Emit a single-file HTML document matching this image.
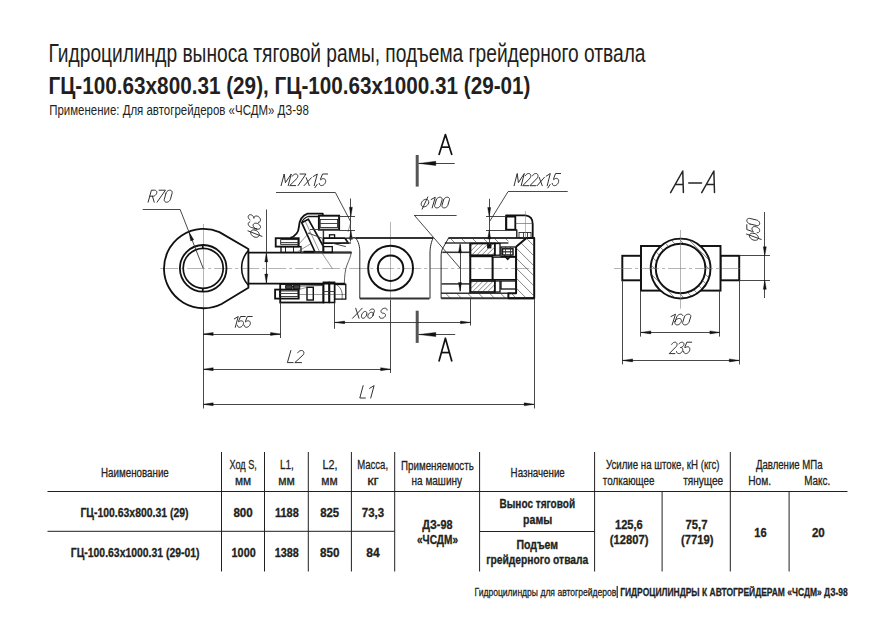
<!DOCTYPE html><html><head><meta charset="utf-8"><style>html,body{margin:0;padding:0;background:#fff;width:891px;height:620px;overflow:hidden}svg{display:block}text{font-family:"Liberation Sans",sans-serif}</style></head><body>
<svg width="891" height="620" viewBox="0 0 891 620">
<rect width="891" height="620" fill="#fff"/>
<line x1="47.5" y1="491.5" x2="847.5" y2="491.5" stroke="#231f20" stroke-width="1"/>
<line x1="47.5" y1="531.3" x2="394.7" y2="531.3" stroke="#231f20" stroke-width="1"/>
<line x1="479.6" y1="531.5" x2="594.6" y2="531.5" stroke="#231f20" stroke-width="1"/>
<line x1="221.5" y1="452" x2="221.5" y2="571.5" stroke="#231f20" stroke-width="1"/>
<line x1="264.5" y1="452" x2="264.5" y2="571.5" stroke="#231f20" stroke-width="1"/>
<line x1="308.3" y1="452" x2="308.3" y2="571.5" stroke="#231f20" stroke-width="1"/>
<line x1="351.4" y1="452" x2="351.4" y2="571.5" stroke="#231f20" stroke-width="1"/>
<line x1="394.7" y1="452" x2="394.7" y2="571.5" stroke="#231f20" stroke-width="1"/>
<line x1="479.6" y1="452" x2="479.6" y2="571.5" stroke="#231f20" stroke-width="1"/>
<line x1="594.6" y1="452" x2="594.6" y2="571.5" stroke="#231f20" stroke-width="1"/>
<line x1="730.3" y1="452" x2="730.3" y2="571.5" stroke="#231f20" stroke-width="1"/>
<line x1="662.1" y1="491.5" x2="662.1" y2="571.5" stroke="#231f20" stroke-width="1"/>
<line x1="789.1" y1="491.5" x2="789.1" y2="571.5" stroke="#231f20" stroke-width="1"/>
<line x1="617.2" y1="586" x2="617.2" y2="598" stroke="#231f20" stroke-width="1.2"/>
<text x="48.5" y="61.5" font-size="26.16" fill="#231f20" textLength="597.0" lengthAdjust="spacingAndGlyphs">Гидроцилиндр выноса тяговой рамы, подъема грейдерного отвала</text>
<text x="48.5" y="93.7" font-size="24.71" font-weight="bold" fill="#231f20" textLength="482.0" lengthAdjust="spacingAndGlyphs">ГЦ-100.63х800.31 (29), ГЦ-100.63х1000.31 (29-01)</text>
<text x="49.2" y="115.2" font-size="13.81" fill="#231f20" textLength="259.6" lengthAdjust="spacingAndGlyphs">Применение: Для автогрейдеров «ЧСДМ» ДЗ-98</text>
<text x="101.0" y="477" font-size="13.08" stroke="#231f20" stroke-width="0.3" fill="#231f20" textLength="67.8" lengthAdjust="spacingAndGlyphs">Наименование</text>
<text x="229.39999999999998" y="469" font-size="13.08" stroke="#231f20" stroke-width="0.3" fill="#231f20" textLength="27.4" lengthAdjust="spacingAndGlyphs">Ход S,</text>
<text x="235.0" y="485.2" font-size="12.50" stroke="#231f20" stroke-width="0.3" fill="#231f20" textLength="16.2" lengthAdjust="spacingAndGlyphs">мм</text>
<text x="279.9" y="469" font-size="13.08" stroke="#231f20" stroke-width="0.3" fill="#231f20" textLength="13.9" lengthAdjust="spacingAndGlyphs">L1,</text>
<text x="278.2" y="485.2" font-size="12.50" stroke="#231f20" stroke-width="0.3" fill="#231f20" textLength="16.6" lengthAdjust="spacingAndGlyphs">мм</text>
<text x="322.59999999999997" y="469" font-size="13.08" stroke="#231f20" stroke-width="0.3" fill="#231f20" textLength="15.0" lengthAdjust="spacingAndGlyphs">L2,</text>
<text x="321.2" y="485.2" font-size="12.50" stroke="#231f20" stroke-width="0.3" fill="#231f20" textLength="16.4" lengthAdjust="spacingAndGlyphs">мм</text>
<text x="357.2" y="469" font-size="13.08" stroke="#231f20" stroke-width="0.3" fill="#231f20" textLength="30.9" lengthAdjust="spacingAndGlyphs">Масса,</text>
<text x="367.2" y="485.2" font-size="12.50" stroke="#231f20" stroke-width="0.3" fill="#231f20" textLength="11.6" lengthAdjust="spacingAndGlyphs">кг</text>
<text x="401.0" y="469.7" font-size="13.08" stroke="#231f20" stroke-width="0.3" fill="#231f20" textLength="72.8" lengthAdjust="spacingAndGlyphs">Применяемость</text>
<text x="411.59999999999997" y="485.2" font-size="12.50" stroke="#231f20" stroke-width="0.3" fill="#231f20" textLength="50.4" lengthAdjust="spacingAndGlyphs">на машину</text>
<text x="510.59999999999997" y="476.8" font-size="13.08" stroke="#231f20" stroke-width="0.3" fill="#231f20" textLength="54.2" lengthAdjust="spacingAndGlyphs">Назначение</text>
<text x="605.9000000000001" y="469" font-size="13.08" stroke="#231f20" stroke-width="0.3" fill="#231f20" textLength="113.7" lengthAdjust="spacingAndGlyphs">Усилие на штоке, кН (кгс)</text>
<text x="602.8000000000001" y="485.2" font-size="12.50" stroke="#231f20" stroke-width="0.3" fill="#231f20" textLength="51.6" lengthAdjust="spacingAndGlyphs">толкающее</text>
<text x="683.2" y="485.2" font-size="12.50" stroke="#231f20" stroke-width="0.3" fill="#231f20" textLength="40.0" lengthAdjust="spacingAndGlyphs">тянущее</text>
<text x="755.9000000000001" y="469" font-size="13.08" stroke="#231f20" stroke-width="0.3" fill="#231f20" textLength="66.7" lengthAdjust="spacingAndGlyphs">Давление МПа</text>
<text x="748.2" y="485" font-size="13.08" stroke="#231f20" stroke-width="0.3" fill="#231f20" textLength="22.9" lengthAdjust="spacingAndGlyphs">Ном.</text>
<text x="804.2" y="485" font-size="13.08" stroke="#231f20" stroke-width="0.3" fill="#231f20" textLength="26.0" lengthAdjust="spacingAndGlyphs">Макс.</text>
<text x="80.4" y="517.3" font-size="12.35" font-weight="bold" stroke="#231f20" stroke-width="0.3" fill="#231f20" textLength="108.2" lengthAdjust="spacingAndGlyphs">ГЦ-100.63х800.31 (29)</text>
<text x="70.8" y="556.8" font-size="12.35" font-weight="bold" stroke="#231f20" stroke-width="0.3" fill="#231f20" textLength="128.8" lengthAdjust="spacingAndGlyphs">ГЦ-100.63х1000.31 (29-01)</text>
<text x="233.39999999999998" y="516.8" font-size="12.35" font-weight="bold" stroke="#231f20" stroke-width="0.3" fill="#231f20" textLength="19.4" lengthAdjust="spacingAndGlyphs">800</text>
<text x="275.0" y="516.8" font-size="12.35" font-weight="bold" stroke="#231f20" stroke-width="0.3" fill="#231f20" textLength="23.8" lengthAdjust="spacingAndGlyphs">1188</text>
<text x="320.2" y="516.8" font-size="12.35" font-weight="bold" stroke="#231f20" stroke-width="0.3" fill="#231f20" textLength="19.0" lengthAdjust="spacingAndGlyphs">825</text>
<text x="361.8" y="516.8" font-size="12.35" font-weight="bold" stroke="#231f20" stroke-width="0.3" fill="#231f20" textLength="22.3" lengthAdjust="spacingAndGlyphs">73,3</text>
<text x="231.6" y="556.6" font-size="12.35" font-weight="bold" stroke="#231f20" stroke-width="0.3" fill="#231f20" textLength="24.1" lengthAdjust="spacingAndGlyphs">1000</text>
<text x="274.7" y="556.6" font-size="12.35" font-weight="bold" stroke="#231f20" stroke-width="0.3" fill="#231f20" textLength="24.1" lengthAdjust="spacingAndGlyphs">1388</text>
<text x="319.9" y="556.6" font-size="12.35" font-weight="bold" stroke="#231f20" stroke-width="0.3" fill="#231f20" textLength="19.5" lengthAdjust="spacingAndGlyphs">850</text>
<text x="366.2" y="556.6" font-size="12.35" font-weight="bold" stroke="#231f20" stroke-width="0.3" fill="#231f20" textLength="13.4" lengthAdjust="spacingAndGlyphs">84</text>
<text x="422.2" y="528.7" font-size="12.35" font-weight="bold" stroke="#231f20" stroke-width="0.3" fill="#231f20" textLength="30.3" lengthAdjust="spacingAndGlyphs">ДЗ-98</text>
<text x="417.0" y="544" font-size="12.35" font-weight="bold" stroke="#231f20" stroke-width="0.3" fill="#231f20" textLength="41.0" lengthAdjust="spacingAndGlyphs">«ЧСДМ»</text>
<text x="499.5" y="508" font-size="12.35" font-weight="bold" stroke="#231f20" stroke-width="0.3" fill="#231f20" textLength="75.6" lengthAdjust="spacingAndGlyphs">Вынос тяговой</text>
<text x="523.1" y="524" font-size="12.35" font-weight="bold" stroke="#231f20" stroke-width="0.3" fill="#231f20" textLength="29.1" lengthAdjust="spacingAndGlyphs">рамы</text>
<text x="516.5" y="548.7" font-size="12.35" font-weight="bold" stroke="#231f20" stroke-width="0.3" fill="#231f20" textLength="41.6" lengthAdjust="spacingAndGlyphs">Подъем</text>
<text x="486.2" y="564" font-size="12.35" font-weight="bold" stroke="#231f20" stroke-width="0.3" fill="#231f20" textLength="102.1" lengthAdjust="spacingAndGlyphs">грейдерного отвала</text>
<text x="615.0" y="529" font-size="12.35" font-weight="bold" stroke="#231f20" stroke-width="0.3" fill="#231f20" textLength="27.8" lengthAdjust="spacingAndGlyphs">125,6</text>
<text x="609.8000000000001" y="544.4" font-size="12.35" font-weight="bold" stroke="#231f20" stroke-width="0.3" fill="#231f20" textLength="38.6" lengthAdjust="spacingAndGlyphs">(12807)</text>
<text x="685.6" y="529" font-size="12.35" font-weight="bold" stroke="#231f20" stroke-width="0.3" fill="#231f20" textLength="21.9" lengthAdjust="spacingAndGlyphs">75,7</text>
<text x="681.0" y="544.4" font-size="12.35" font-weight="bold" stroke="#231f20" stroke-width="0.3" fill="#231f20" textLength="32.5" lengthAdjust="spacingAndGlyphs">(7719)</text>
<text x="754.2" y="536.5" font-size="12.35" font-weight="bold" stroke="#231f20" stroke-width="0.3" fill="#231f20" textLength="12.4" lengthAdjust="spacingAndGlyphs">16</text>
<text x="811.9000000000001" y="536.5" font-size="12.35" font-weight="bold" stroke="#231f20" stroke-width="0.3" fill="#231f20" textLength="12.9" lengthAdjust="spacingAndGlyphs">20</text>
<text x="474.5" y="595.8" font-size="11.63" stroke="#231f20" stroke-width="0.3" fill="#231f20" textLength="141.8" lengthAdjust="spacingAndGlyphs">Гидроцилиндры для автогрейдеров</text>
<text x="620.2" y="595.8" font-size="11.63" font-weight="bold" stroke="#231f20" stroke-width="0.3" fill="#231f20" textLength="227.6" lengthAdjust="spacingAndGlyphs">ГИДРОЦИЛИНДРЫ К АВТОГРЕЙДЕРАМ «ЧСДМ» ДЗ-98</text>
<line x1="160.20" y1="268.50" x2="534.20" y2="268.50" stroke="#777" stroke-width="0.55" stroke-dasharray="18,3,3,3"/>
<line x1="203.50" y1="224.00" x2="203.50" y2="308.00" stroke="#777" stroke-width="0.55"/>
<line x1="203.50" y1="308.00" x2="203.50" y2="408.50" stroke="#333" stroke-width="0.9"/>
<line x1="390.50" y1="222.00" x2="390.50" y2="300.00" stroke="#777" stroke-width="0.55"/>
<line x1="390.50" y1="300.00" x2="390.50" y2="373.00" stroke="#333" stroke-width="0.9"/>
<path d="M219.4,232.1 A39.7,39.7 0 1 0 221.6,304.0 L248.4,287.7 L248.4,249 Z" fill="none" stroke="#111" stroke-width="1.8199999999999998" stroke-linejoin="round"/>
<circle cx="203.20" cy="268.30" r="23.30" fill="none" stroke="#111" stroke-width="1.8199999999999998"/>
<circle cx="203.20" cy="268.30" r="20.00" fill="none" stroke="#111" stroke-width="1.6900000000000002"/>
<line x1="202.70" y1="244.80" x2="202.70" y2="248.20" stroke="#111" stroke-width="1.56"/>
<line x1="202.70" y1="288.40" x2="202.70" y2="291.80" stroke="#111" stroke-width="1.56"/>
<path d="M248.4,250.6 A25.5,25.5 0 0 0 248.4,285.2" fill="none" stroke="#111" stroke-width="1.56" stroke-linejoin="round"/>
<line x1="142.70" y1="209.50" x2="180.00" y2="209.50" stroke="#333" stroke-width="0.9"/>
<line x1="180.00" y1="209.20" x2="203.20" y2="268.30" stroke="#333" stroke-width="0.9"/>
<polygon points="188.95,232.00 193.73,239.79 190.75,240.96" fill="#111" stroke="#111" stroke-width="0.4"/>
<path d="M148.10,202.20 L151.40,190.20 L154.58,190.20 L154.58,190.20 L155.17,190.27 L155.70,190.46 L156.15,190.77 L156.49,191.19 L156.71,191.70 L156.80,192.27 L156.76,192.89 L156.59,193.51 L156.29,194.13 L155.88,194.70 L155.38,195.21 L154.81,195.63 L154.19,195.94 L153.56,196.13 L152.93,196.20 L149.75,196.20 M152.44,196.20 L154.21,202.20 M159.10,190.20 L165.46,190.20 L157.03,202.20 M165.98,193.20 L166.22,192.58 L166.58,191.98 L167.05,191.44 L167.61,190.97 L168.22,190.60 L168.88,190.35 L169.54,190.22 L170.18,190.22 L170.77,190.35 L171.28,190.60 L171.70,190.97 L172.00,191.44 L172.17,191.98 L172.20,192.58 L172.10,193.20 L170.44,199.20 L170.21,199.82 L169.84,200.42 L169.38,200.96 L168.82,201.43 L168.20,201.80 L167.55,202.05 L166.89,202.18 L166.25,202.18 L165.66,202.05 L165.14,201.80 L164.73,201.43 L164.43,200.96 L164.26,200.42 L164.23,199.82 L164.33,199.20 L165.98,193.20" fill="none" stroke="#262626" stroke-width="0.95" stroke-linecap="round" stroke-linejoin="round"/>
<line x1="248.40" y1="252.60" x2="351.50" y2="252.60" stroke="#111" stroke-width="1.8199999999999998"/>
<line x1="248.40" y1="283.70" x2="345.50" y2="283.70" stroke="#111" stroke-width="1.8199999999999998"/>
<path d="M351.2,252.3 C351,256 349,260 347,265 C345,270 344.5,277 344.3,283.9" fill="none" stroke="#333" stroke-width="0.8" stroke-linejoin="round"/>
<line x1="266.50" y1="209.50" x2="266.50" y2="283.40" stroke="#333" stroke-width="0.9"/>
<polygon points="266.30,252.90 267.80,261.90 264.80,261.90" fill="#111" stroke="#111" stroke-width="0.4"/>
<polygon points="266.30,283.10 264.80,274.10 267.80,274.10" fill="#111" stroke="#111" stroke-width="0.4"/>
<path d="M254.97,230.06 L254.07,229.92 L253.21,229.93 L252.43,230.11 L251.77,230.43 L251.24,230.90 L250.87,231.48 L250.68,232.16 L250.68,232.90 L250.87,233.68 L251.24,234.44 L251.77,235.18 L252.43,235.84 L253.21,236.41 L254.07,236.85 L254.97,237.15 L255.86,237.30 L256.72,237.29 L257.50,237.11 L258.16,236.78 L258.69,236.32 L259.06,235.73 L259.25,235.05 L259.25,234.31 L259.06,233.54 L258.69,232.77 L258.16,232.04 L257.50,231.38 L256.72,230.81 L255.86,230.37 L254.97,230.06 M261.98,236.40 L247.95,230.82 M249.80,221.93 L249.24,222.14 L248.78,222.48 L248.44,222.92 L248.25,223.44 L248.20,224.03 L248.31,224.64 L248.56,225.26 L248.95,225.86 L249.45,226.40 L250.05,226.86 L250.71,227.21 L251.40,227.45 L256.81,229.04 M256.81,229.04 L256.04,228.78 L255.31,228.42 L254.64,227.95 L254.07,227.41 L253.61,226.81 L253.30,226.18 L253.14,225.56 L253.14,224.96 L253.30,224.42 L253.61,223.95 L254.07,223.58 L254.64,223.32 L255.31,223.19 L256.04,223.19 L256.81,223.32 L257.58,223.58 L258.31,223.95 L258.98,224.41 L259.55,224.96 L260.01,225.55 L260.32,226.18 L260.48,226.80 L260.48,227.40 L260.32,227.95 L260.01,228.41 L259.55,228.78 L258.98,229.04 L258.31,229.17 L257.58,229.17 L256.81,229.04 M250.06,219.86 L249.51,219.46 L249.03,218.96 L248.64,218.40 L248.37,217.80 L248.22,217.18 L248.21,216.58 L248.33,216.02 L248.58,215.54 L248.94,215.15 L249.41,214.87 L249.95,214.72 L250.54,214.70 L251.15,214.82 L251.76,215.06 L252.34,215.42 L252.85,215.88 L253.27,216.42 L253.59,217.01 L253.79,217.63 L253.86,218.24 L253.86,218.35 L253.94,217.70 L254.17,217.12 L254.54,216.64 L255.04,216.28 L255.65,216.06 L256.32,215.99 L257.03,216.06 L257.76,216.29 L258.45,216.65 L259.08,217.13 L259.63,217.71 L260.06,218.36 L260.35,219.05 L260.49,219.75 L260.47,220.41 L260.30,221.02 L259.98,221.55 L259.53,221.96 L258.96,222.24 L258.31,222.37" fill="none" stroke="#262626" stroke-width="0.95" stroke-linecap="round" stroke-linejoin="round"/>
<rect x="275.70" y="238.20" width="23.00" height="8.40" fill="none" stroke="#111" stroke-width="1.8199999999999998"/>
<rect x="280.70" y="239.60" width="17.40" height="4.70" fill="none" stroke="#111" stroke-width="0.9"/>
<line x1="280.70" y1="242.50" x2="298.10" y2="242.50" stroke="#333" stroke-width="0.9"/>
<rect x="281.00" y="246.60" width="20.00" height="5.80" fill="none" stroke="#111" stroke-width="1.3"/>
<line x1="285.50" y1="246.60" x2="285.50" y2="252.40" stroke="#111" stroke-width="0.9"/>
<line x1="293.50" y1="246.60" x2="293.50" y2="252.40" stroke="#111" stroke-width="0.9"/>
<path d="M290.3,237.8 C296,236 298.5,232 298.9,227 C299.3,221 301,216 307.6,213.7 L322.8,213.7 L322.8,215.7" fill="none" stroke="#111" stroke-width="1.8199999999999998" stroke-linejoin="round"/>
<rect x="318.90" y="215.70" width="20.20" height="14.00" fill="none" stroke="#111" stroke-width="1.9500000000000002"/>
<rect x="320.20" y="219.50" width="17.40" height="8.00" fill="none" stroke="#111" stroke-width="0.8"/>
<line x1="320.20" y1="223.50" x2="337.60" y2="223.50" stroke="#333" stroke-width="0.9"/>
<polygon points="301.70,222.70 308.30,219.20 323.40,246.50 323.40,252.00 315.00,252.00" fill="none" stroke="#111" stroke-width="1.6900000000000002" stroke-linejoin="round"/>
<line x1="305.20" y1="221.20" x2="319.50" y2="251.60" stroke="#333" stroke-width="0.5"/>
<path d="M301.7,222.7 C303,219 305,217.5 308,216.5 L319,216.5" fill="none" stroke="#111" stroke-width="1.3" stroke-linejoin="round"/>
<line x1="323.40" y1="229.90" x2="323.40" y2="252.00" stroke="#333" stroke-width="1.4300000000000002"/>
<line x1="301.00" y1="252.40" x2="351.50" y2="252.40" stroke="#333" stroke-width="1.8199999999999998"/>
<path d="M303.5,251.8 L314,251.8" fill="none" stroke="#111" stroke-width="2.08" stroke-linejoin="round"/>
<polygon points="323.40,238.20 345.00,238.20 348.40,243.20 323.40,243.20" fill="none" stroke="#111" stroke-width="1.6900000000000002" stroke-linejoin="round"/>
<rect x="329.50" y="234.80" width="5.10" height="3.40" fill="none" stroke="#111" stroke-width="1.3"/>
<rect x="323.40" y="246.60" width="8.90" height="5.80" fill="none" stroke="#111" stroke-width="1.3"/>
<line x1="332.30" y1="243.20" x2="345.80" y2="246.60" stroke="#333" stroke-width="0.9"/>
<line x1="310.00" y1="229.50" x2="339.10" y2="229.50" stroke="#333" stroke-width="0.9"/>
<line x1="308.00" y1="233.00" x2="322.00" y2="238.20" stroke="#333" stroke-width="0.9"/>
<line x1="297.00" y1="246.00" x2="310.00" y2="232.00" stroke="#333" stroke-width="0.5"/>
<line x1="298.00" y1="251.50" x2="312.00" y2="243.00" stroke="#333" stroke-width="0.5"/>
<line x1="276.00" y1="192.50" x2="335.30" y2="192.50" stroke="#333" stroke-width="0.9"/>
<line x1="335.30" y1="192.40" x2="350.80" y2="222.00" stroke="#333" stroke-width="0.9"/>
<line x1="350.80" y1="222.00" x2="348.00" y2="232.00" stroke="#333" stroke-width="0.5"/>
<line x1="339.10" y1="216.50" x2="355.00" y2="216.50" stroke="#333" stroke-width="0.9"/>
<line x1="339.10" y1="230.50" x2="355.00" y2="230.50" stroke="#333" stroke-width="0.9"/>
<line x1="350.50" y1="198.50" x2="350.50" y2="241.50" stroke="#333" stroke-width="0.9"/>
<polygon points="350.90,216.30 349.40,207.30 352.40,207.30" fill="#111" stroke="#111" stroke-width="0.4"/>
<polygon points="350.90,230.30 352.40,239.30 349.40,239.30" fill="#111" stroke="#111" stroke-width="0.4"/>
<line x1="322.30" y1="253.50" x2="332.40" y2="268.60" stroke="#333" stroke-width="0.5"/>
<path d="M281.10,185.60 L284.19,174.00 L285.42,182.70 L291.29,174.00 L288.20,185.60 M292.28,176.24 L292.68,175.62 L293.18,175.06 L293.76,174.61 L294.39,174.27 L295.05,174.06 L295.70,174.00 L296.30,174.09 L296.83,174.31 L297.27,174.67 L297.59,175.15 L297.77,175.71 L297.81,176.34 L297.71,177.00 L297.47,177.66 L297.10,178.29 L289.69,185.60 L295.65,185.60 M300.00,174.00 L305.95,174.00 L298.05,185.60 M304.12,185.60 L311.38,177.71 M306.22,177.71 L309.27,185.60 M313.18,176.55 L317.29,174.00 L314.20,185.60 M317.14,184.44 L314.90,187.69 M327.60,174.00 L322.56,174.00 L320.51,179.10 L320.68,179.88 L321.28,179.38 L321.94,178.99 L322.61,178.74 L323.28,178.64 L323.91,178.69 L324.48,178.89 L324.96,179.23 L325.33,179.70 L325.57,180.28 L325.68,180.93 L325.65,181.64 L325.48,182.36 L325.17,183.08 L324.75,183.75 L324.23,184.36 L323.63,184.86 L322.98,185.25 L322.31,185.50 L321.64,185.60 L321.01,185.55 L320.44,185.35 L319.96,185.01 L319.59,184.54 L319.34,183.96 L319.23,183.31" fill="none" stroke="#262626" stroke-width="0.95" stroke-linecap="round" stroke-linejoin="round"/>
<rect x="280.20" y="284.00" width="43.20" height="18.50" fill="none" stroke="#111" stroke-width="1.8199999999999998"/>
<rect x="275.10" y="289.60" width="23.60" height="9.00" fill="none" stroke="#111" stroke-width="1.8199999999999998"/>
<rect x="279.50" y="291.00" width="18.50" height="5.50" fill="none" stroke="#111" stroke-width="0.8"/>
<line x1="279.50" y1="293.50" x2="298.00" y2="293.50" stroke="#333" stroke-width="0.9"/>
<rect x="307.00" y="287.30" width="6.30" height="12.70" fill="none" stroke="#111" stroke-width="1.4300000000000002"/>
<line x1="298.70" y1="289.60" x2="307.00" y2="287.30" stroke="#333" stroke-width="0.5"/>
<line x1="285.00" y1="286.80" x2="300.00" y2="286.80" stroke="#333" stroke-width="1.56"/>
<rect x="323.40" y="282.30" width="5.60" height="20.20" fill="none" stroke="#111" stroke-width="1.56"/>
<rect x="329.50" y="282.30" width="5.10" height="20.20" fill="none" stroke="#111" stroke-width="1.56"/>
<rect x="334.60" y="284.50" width="11.20" height="14.60" fill="none" stroke="#111" stroke-width="1.3"/>
<line x1="323.40" y1="291.50" x2="334.60" y2="291.50" stroke="#333" stroke-width="0.9"/>
<path d="M337,285 C341,288 343,292 342,299" fill="none" stroke="#333" stroke-width="0.7" stroke-linejoin="round"/>
<rect x="285.80" y="285.30" width="6.20" height="3.50" fill="#444" stroke="#111" stroke-width="0.9"/>
<rect x="293.60" y="285.30" width="6.20" height="3.50" fill="#444" stroke="#111" stroke-width="0.9"/>
<line x1="300.00" y1="286.00" x2="323.00" y2="285.50" stroke="#333" stroke-width="0.9"/>
<line x1="298.70" y1="294.50" x2="345.80" y2="294.50" stroke="#333" stroke-width="0.5"/>
<line x1="355.30" y1="238.00" x2="433.20" y2="238.00" stroke="#333" stroke-width="1.9500000000000002"/>
<line x1="359.80" y1="298.50" x2="429.50" y2="298.50" stroke="#333" stroke-width="1.9500000000000002"/>
<path d="M355.5,238 C358.5,241 360,247 359.8,253 L359.8,298.5" fill="none" stroke="#111" stroke-width="0.9" stroke-linejoin="round"/>
<path d="M433.2,238 C431.5,241 430,247 430,253 L430,298.5" fill="none" stroke="#111" stroke-width="0.9" stroke-linejoin="round"/>
<circle cx="390.60" cy="268.20" r="22.40" fill="none" stroke="#111" stroke-width="1.9500000000000002"/>
<circle cx="390.60" cy="268.20" r="12.70" fill="none" stroke="#111" stroke-width="1.9500000000000002"/>
<line x1="345.80" y1="238.20" x2="355.30" y2="237.70" stroke="#333" stroke-width="1.56"/>
<line x1="341.00" y1="243.00" x2="351.00" y2="243.00" stroke="#333" stroke-width="1.3"/>
<line x1="414.10" y1="215.50" x2="456.60" y2="215.50" stroke="#333" stroke-width="0.9"/>
<line x1="414.10" y1="215.00" x2="460.00" y2="268.00" stroke="#333" stroke-width="0.9"/>
<path d="M428.56,203.09 L428.71,202.31 L428.70,201.56 L428.52,200.88 L428.19,200.30 L427.71,199.84 L427.12,199.52 L426.43,199.36 L425.67,199.36 L424.89,199.52 L424.11,199.84 L423.36,200.30 L422.68,200.88 L422.11,201.56 L421.66,202.31 L421.35,203.09 L421.20,203.86 L421.21,204.61 L421.39,205.29 L421.73,205.87 L422.20,206.33 L422.80,206.65 L423.49,206.81 L424.24,206.81 L425.03,206.65 L425.81,206.33 L426.55,205.87 L427.23,205.29 L427.80,204.61 L428.26,203.86 L428.56,203.09 M422.12,209.18 L427.79,196.99 M431.11,199.55 L435.29,197.20 L432.15,207.90 M436.25,199.88 L436.48,199.32 L436.82,198.79 L437.27,198.30 L437.80,197.89 L438.39,197.56 L439.01,197.33 L439.64,197.21 L440.25,197.21 L440.81,197.33 L441.30,197.56 L441.69,197.89 L441.98,198.30 L442.14,198.79 L442.17,199.32 L442.07,199.88 L440.50,205.22 L440.27,205.78 L439.93,206.31 L439.48,206.80 L438.95,207.21 L438.37,207.54 L437.74,207.77 L437.11,207.89 L436.51,207.89 L435.95,207.77 L435.46,207.54 L435.06,207.21 L434.78,206.80 L434.61,206.31 L434.58,205.78 L434.68,205.22 L436.25,199.88 M443.58,199.88 L443.81,199.32 L444.15,198.79 L444.60,198.30 L445.13,197.89 L445.72,197.56 L446.34,197.33 L446.97,197.21 L447.58,197.21 L448.14,197.33 L448.63,197.56 L449.02,197.89 L449.31,198.30 L449.47,198.79 L449.50,199.32 L449.40,199.88 L447.83,205.22 L447.60,205.78 L447.26,206.31 L446.81,206.80 L446.28,207.21 L445.70,207.54 L445.07,207.77 L444.44,207.89 L443.84,207.89 L443.28,207.77 L442.79,207.54 L442.39,207.21 L442.11,206.80 L441.94,206.31 L441.91,205.78 L442.01,205.22 L443.58,199.88" fill="none" stroke="#262626" stroke-width="0.95" stroke-linecap="round" stroke-linejoin="round"/>
<line x1="448.40" y1="238.00" x2="534.20" y2="238.00" stroke="#333" stroke-width="1.9500000000000002"/>
<line x1="441.10" y1="298.30" x2="534.20" y2="298.30" stroke="#333" stroke-width="1.9500000000000002"/>
<line x1="444.80" y1="243.00" x2="508.40" y2="243.00" stroke="#333" stroke-width="1.56"/>
<line x1="441.10" y1="293.30" x2="508.40" y2="293.30" stroke="#333" stroke-width="1.56"/>
<path d="M448.6,238 L443,247.9 C441.5,250.5 441.1,253 441.1,257 L441.1,298.3" fill="none" stroke="#111" stroke-width="0.9" stroke-linejoin="round"/>
<line x1="442.30" y1="252.30" x2="470.30" y2="252.30" stroke="#333" stroke-width="1.56"/>
<line x1="441.50" y1="283.90" x2="470.30" y2="283.90" stroke="#333" stroke-width="1.56"/>
<line x1="470.30" y1="243.50" x2="470.30" y2="292.80" stroke="#333" stroke-width="1.9500000000000002"/>
<rect x="470.30" y="243.50" width="24.50" height="11.70" fill="none" stroke="#111" stroke-width="1.6900000000000002"/>
<rect x="470.30" y="281.00" width="24.50" height="11.00" fill="none" stroke="#111" stroke-width="1.6900000000000002"/>
<rect x="470.30" y="256.50" width="22.00" height="23.20" fill="none" stroke="#111" stroke-width="1.4300000000000002"/>
<rect x="492.90" y="257.10" width="23.20" height="22.60" fill="none" stroke="#111" stroke-width="1.4300000000000002"/>
<rect x="494.80" y="243.50" width="5.20" height="11.70" fill="none" stroke="#111" stroke-width="1.3"/>
<rect x="494.80" y="281.00" width="5.20" height="11.00" fill="none" stroke="#111" stroke-width="1.3"/>
<rect x="501.00" y="247.00" width="15.10" height="9.50" fill="none" stroke="#111" stroke-width="1.3"/>
<rect x="501.00" y="281.00" width="15.10" height="8.00" fill="none" stroke="#111" stroke-width="1.3"/>
<rect x="502.50" y="248.80" width="10.50" height="6.20" fill="none" stroke="#111" stroke-width="1.4300000000000002"/>
<line x1="502.50" y1="251.80" x2="513.00" y2="251.80" stroke="#333" stroke-width="1.3"/>
<line x1="505.50" y1="246.80" x2="505.50" y2="255.00" stroke="#333" stroke-width="0.9"/>
<line x1="510.50" y1="246.80" x2="510.50" y2="255.00" stroke="#333" stroke-width="0.9"/>
<path d="M504.2,255.5 L507.7,259.5 L511.2,255.5" fill="none" stroke="#111" stroke-width="1.3" stroke-linejoin="round"/>
<polyline points="516.10,246.80 526.50,238.00 534.20,238.00 534.20,298.30 508.40,298.30 508.40,293.30 516.10,293.30 516.10,246.80" fill="none" stroke="#111" stroke-width="1.9500000000000002" stroke-linejoin="round"/>
<path d="M506.1,230 L506.1,215.3 L525.5,215.3 Q532.7,216 532.7,224 L532.7,238" fill="none" stroke="#111" stroke-width="1.8199999999999998" stroke-linejoin="round"/>
<rect x="506.30" y="216.60" width="9.00" height="13.10" fill="none" stroke="#111" stroke-width="1.8199999999999998"/>
<path d="M506.1,229.9 L516.8,229.9 L516.8,238" fill="none" stroke="#111" stroke-width="1.3" stroke-linejoin="round"/>
<rect x="519.00" y="232.50" width="12.00" height="5.50" fill="none" stroke="#111" stroke-width="0.8"/>
<line x1="523.50" y1="232.50" x2="523.50" y2="238.00" stroke="#333" stroke-width="0.9"/>
<line x1="527.50" y1="232.50" x2="527.50" y2="238.00" stroke="#333" stroke-width="0.9"/>
<line x1="515.30" y1="223.50" x2="532.70" y2="223.50" stroke="#333" stroke-width="0.5"/>
<line x1="525.50" y1="211.00" x2="525.50" y2="238.00" stroke="#777" stroke-width="0.5"/>
<line x1="508.00" y1="191.50" x2="567.70" y2="191.50" stroke="#333" stroke-width="0.9"/>
<line x1="508.00" y1="191.70" x2="489.90" y2="221.00" stroke="#333" stroke-width="0.9"/>
<line x1="486.00" y1="216.50" x2="506.40" y2="216.50" stroke="#333" stroke-width="0.9"/>
<line x1="486.00" y1="230.50" x2="506.40" y2="230.50" stroke="#333" stroke-width="0.9"/>
<line x1="489.50" y1="198.80" x2="489.50" y2="244.50" stroke="#333" stroke-width="0.9"/>
<polygon points="489.20,216.50 487.70,207.50 490.70,207.50" fill="#111" stroke="#111" stroke-width="0.4"/>
<polygon points="489.20,230.00 490.70,239.00 487.70,239.00" fill="#111" stroke="#111" stroke-width="0.4"/>
<rect x="487.50" y="244.50" width="3.50" height="3.50" fill="#111" stroke="#111" stroke-width="0.8"/>
<path d="M514.10,185.70 L517.19,173.50 L518.42,182.65 L524.29,173.50 L521.20,185.70 M525.28,175.85 L525.68,175.20 L526.18,174.62 L526.76,174.14 L527.39,173.78 L528.05,173.57 L528.70,173.50 L529.30,173.59 L529.83,173.83 L530.27,174.21 L530.59,174.70 L530.77,175.30 L530.81,175.96 L530.71,176.65 L530.47,177.35 L530.10,178.01 L522.69,185.70 L528.65,185.70 M532.50,175.85 L532.89,175.20 L533.39,174.62 L533.98,174.14 L534.61,173.78 L535.27,173.57 L535.91,173.50 L536.51,173.59 L537.05,173.83 L537.48,174.21 L537.80,174.70 L537.99,175.30 L538.03,175.96 L537.92,176.65 L537.68,177.35 L537.31,178.01 L529.91,185.70 L535.86,185.70 M537.12,185.70 L544.38,177.40 M539.22,177.40 L542.27,185.70 M546.18,176.18 L550.29,173.50 L547.20,185.70 M550.14,184.48 L547.90,187.90 M560.60,173.50 L555.56,173.50 L553.51,178.87 L553.68,179.69 L554.28,179.16 L554.94,178.75 L555.61,178.49 L556.28,178.38 L556.91,178.44 L557.48,178.65 L557.96,179.01 L558.33,179.50 L558.57,180.10 L558.68,180.79 L558.65,181.53 L558.48,182.30 L558.17,183.05 L557.75,183.76 L557.23,184.39 L556.63,184.92 L555.98,185.33 L555.31,185.59 L554.64,185.70 L554.01,185.64 L553.44,185.43 L552.96,185.07 L552.59,184.58 L552.34,183.98 L552.23,183.29" fill="none" stroke="#262626" stroke-width="0.95" stroke-linecap="round" stroke-linejoin="round"/>
<line x1="460.50" y1="244.50" x2="460.50" y2="291.00" stroke="#333" stroke-width="0.9"/>
<polygon points="460.00,243.80 461.50,252.80 458.50,252.80" fill="#111" stroke="#111" stroke-width="0.4"/>
<polygon points="460.00,291.50 458.50,282.50 461.50,282.50" fill="#111" stroke="#111" stroke-width="0.4"/>
<clipPath id="h125"><polygon points="448.00,238.00 508.40,238.00 508.40,243.00 446.00,243.00"/></clipPath><g clip-path="url(#h125)"><line x1="439.00" y1="238.00" x2="444.00" y2="243.00" stroke="#333" stroke-width="0.6"/><line x1="450.00" y1="238.00" x2="455.00" y2="243.00" stroke="#333" stroke-width="0.6"/><line x1="461.00" y1="238.00" x2="466.00" y2="243.00" stroke="#333" stroke-width="0.6"/><line x1="472.00" y1="238.00" x2="477.00" y2="243.00" stroke="#333" stroke-width="0.6"/><line x1="483.00" y1="238.00" x2="488.00" y2="243.00" stroke="#333" stroke-width="0.6"/><line x1="494.00" y1="238.00" x2="499.00" y2="243.00" stroke="#333" stroke-width="0.6"/><line x1="505.00" y1="238.00" x2="510.00" y2="243.00" stroke="#333" stroke-width="0.6"/></g>
<clipPath id="h126"><polygon points="441.60,293.30 508.40,293.30 508.40,298.30 441.60,298.30"/></clipPath><g clip-path="url(#h126)"><line x1="434.60" y1="293.30" x2="439.60" y2="298.30" stroke="#333" stroke-width="0.6"/><line x1="445.60" y1="293.30" x2="450.60" y2="298.30" stroke="#333" stroke-width="0.6"/><line x1="456.60" y1="293.30" x2="461.60" y2="298.30" stroke="#333" stroke-width="0.6"/><line x1="467.60" y1="293.30" x2="472.60" y2="298.30" stroke="#333" stroke-width="0.6"/><line x1="478.60" y1="293.30" x2="483.60" y2="298.30" stroke="#333" stroke-width="0.6"/><line x1="489.60" y1="293.30" x2="494.60" y2="298.30" stroke="#333" stroke-width="0.6"/><line x1="500.60" y1="293.30" x2="505.60" y2="298.30" stroke="#333" stroke-width="0.6"/><line x1="511.60" y1="293.30" x2="516.60" y2="298.30" stroke="#333" stroke-width="0.6"/></g>
<clipPath id="h127"><polygon points="470.30,243.50 494.80,243.50 494.80,255.20 470.30,255.20"/></clipPath><g clip-path="url(#h127)"><line x1="456.60" y1="255.20" x2="468.30" y2="243.50" stroke="#333" stroke-width="0.6"/><line x1="461.60" y1="255.20" x2="473.30" y2="243.50" stroke="#333" stroke-width="0.6"/><line x1="466.60" y1="255.20" x2="478.30" y2="243.50" stroke="#333" stroke-width="0.6"/><line x1="471.60" y1="255.20" x2="483.30" y2="243.50" stroke="#333" stroke-width="0.6"/><line x1="476.60" y1="255.20" x2="488.30" y2="243.50" stroke="#333" stroke-width="0.6"/><line x1="481.60" y1="255.20" x2="493.30" y2="243.50" stroke="#333" stroke-width="0.6"/><line x1="486.60" y1="255.20" x2="498.30" y2="243.50" stroke="#333" stroke-width="0.6"/><line x1="491.60" y1="255.20" x2="503.30" y2="243.50" stroke="#333" stroke-width="0.6"/><line x1="496.60" y1="255.20" x2="508.30" y2="243.50" stroke="#333" stroke-width="0.6"/><line x1="501.60" y1="255.20" x2="513.30" y2="243.50" stroke="#333" stroke-width="0.6"/><line x1="506.60" y1="255.20" x2="518.30" y2="243.50" stroke="#333" stroke-width="0.6"/></g>
<clipPath id="h128"><polygon points="470.30,281.00 494.80,281.00 494.80,292.00 470.30,292.00"/></clipPath><g clip-path="url(#h128)"><line x1="457.30" y1="292.00" x2="468.30" y2="281.00" stroke="#333" stroke-width="0.6"/><line x1="462.30" y1="292.00" x2="473.30" y2="281.00" stroke="#333" stroke-width="0.6"/><line x1="467.30" y1="292.00" x2="478.30" y2="281.00" stroke="#333" stroke-width="0.6"/><line x1="472.30" y1="292.00" x2="483.30" y2="281.00" stroke="#333" stroke-width="0.6"/><line x1="477.30" y1="292.00" x2="488.30" y2="281.00" stroke="#333" stroke-width="0.6"/><line x1="482.30" y1="292.00" x2="493.30" y2="281.00" stroke="#333" stroke-width="0.6"/><line x1="487.30" y1="292.00" x2="498.30" y2="281.00" stroke="#333" stroke-width="0.6"/><line x1="492.30" y1="292.00" x2="503.30" y2="281.00" stroke="#333" stroke-width="0.6"/><line x1="497.30" y1="292.00" x2="508.30" y2="281.00" stroke="#333" stroke-width="0.6"/><line x1="502.30" y1="292.00" x2="513.30" y2="281.00" stroke="#333" stroke-width="0.6"/><line x1="507.30" y1="292.00" x2="518.30" y2="281.00" stroke="#333" stroke-width="0.6"/></g>
<clipPath id="h129"><polygon points="516.10,246.80 526.50,238.00 534.20,238.00 534.20,298.30 508.40,298.30 508.40,293.30 516.10,293.30"/></clipPath><g clip-path="url(#h129)"><line x1="446.10" y1="238.00" x2="506.40" y2="298.30" stroke="#333" stroke-width="0.6"/><line x1="456.10" y1="238.00" x2="516.40" y2="298.30" stroke="#333" stroke-width="0.6"/><line x1="466.10" y1="238.00" x2="526.40" y2="298.30" stroke="#333" stroke-width="0.6"/><line x1="476.10" y1="238.00" x2="536.40" y2="298.30" stroke="#333" stroke-width="0.6"/><line x1="486.10" y1="238.00" x2="546.40" y2="298.30" stroke="#333" stroke-width="0.6"/><line x1="496.10" y1="238.00" x2="556.40" y2="298.30" stroke="#333" stroke-width="0.6"/><line x1="506.10" y1="238.00" x2="566.40" y2="298.30" stroke="#333" stroke-width="0.6"/><line x1="516.10" y1="238.00" x2="576.40" y2="298.30" stroke="#333" stroke-width="0.6"/><line x1="526.10" y1="238.00" x2="586.40" y2="298.30" stroke="#333" stroke-width="0.6"/><line x1="536.10" y1="238.00" x2="596.40" y2="298.30" stroke="#333" stroke-width="0.6"/><line x1="546.10" y1="238.00" x2="606.40" y2="298.30" stroke="#333" stroke-width="0.6"/><line x1="556.10" y1="238.00" x2="616.40" y2="298.30" stroke="#333" stroke-width="0.6"/><line x1="566.10" y1="238.00" x2="626.40" y2="298.30" stroke="#333" stroke-width="0.6"/><line x1="576.10" y1="238.00" x2="636.40" y2="298.30" stroke="#333" stroke-width="0.6"/><line x1="586.10" y1="238.00" x2="646.40" y2="298.30" stroke="#333" stroke-width="0.6"/><line x1="596.10" y1="238.00" x2="656.40" y2="298.30" stroke="#333" stroke-width="0.6"/></g>
<line x1="417.20" y1="155.00" x2="417.20" y2="186.60" stroke="#555" stroke-width="2.9899999999999998"/>
<line x1="418.60" y1="163.50" x2="454.70" y2="163.50" stroke="#333" stroke-width="0.9"/>
<polygon points="418.80,163.40 435.80,161.30 435.80,165.50" fill="#111" stroke="#111" stroke-width="0.4"/>
<polyline points="438.90,154.90 445.40,134.50 451.90,154.90" fill="none" stroke="#111" stroke-width="1.6900000000000002" stroke-linejoin="round"/>
<line x1="441.37" y1="147.15" x2="449.43" y2="147.15" stroke="#111" stroke-width="1.6900000000000002"/>
<line x1="417.20" y1="310.70" x2="417.20" y2="342.90" stroke="#555" stroke-width="2.9899999999999998"/>
<line x1="418.60" y1="334.50" x2="455.20" y2="334.50" stroke="#333" stroke-width="0.9"/>
<polygon points="418.80,334.50 435.80,332.40 435.80,336.60" fill="#111" stroke="#111" stroke-width="0.4"/>
<polyline points="438.90,361.40 445.40,338.20 451.90,361.40" fill="none" stroke="#111" stroke-width="1.6900000000000002" stroke-linejoin="round"/>
<line x1="441.37" y1="352.58" x2="449.43" y2="352.58" stroke="#111" stroke-width="1.6900000000000002"/>
<line x1="280.50" y1="302.50" x2="280.50" y2="338.00" stroke="#333" stroke-width="0.9"/>
<line x1="334.50" y1="302.50" x2="334.50" y2="328.80" stroke="#333" stroke-width="0.9"/>
<line x1="470.50" y1="298.50" x2="470.50" y2="325.60" stroke="#333" stroke-width="0.9"/>
<line x1="534.50" y1="298.50" x2="534.50" y2="408.50" stroke="#333" stroke-width="0.9"/>
<line x1="203.20" y1="334.50" x2="280.50" y2="334.50" stroke="#333" stroke-width="0.9"/>
<polygon points="203.20,334.00 213.20,332.50 213.20,335.50" fill="#111" stroke="#111" stroke-width="0.4"/>
<polygon points="280.50,334.00 270.50,335.50 270.50,332.50" fill="#111" stroke="#111" stroke-width="0.4"/>
<path d="M234.30,318.88 L238.22,316.50 L235.28,327.30 M245.32,316.50 L240.52,316.50 L238.56,321.25 L238.73,321.98 L239.30,321.51 L239.92,321.15 L240.56,320.92 L241.20,320.82 L241.80,320.87 L242.34,321.06 L242.80,321.37 L243.15,321.81 L243.39,322.34 L243.49,322.95 L243.46,323.61 L243.30,324.29 L243.01,324.95 L242.61,325.58 L242.11,326.14 L241.54,326.61 L240.92,326.97 L240.27,327.20 L239.64,327.30 L239.04,327.25 L238.49,327.06 L238.04,326.75 L237.68,326.31 L237.45,325.78 L237.35,325.17 M252.20,316.50 L247.40,316.50 L245.44,321.25 L245.61,321.98 L246.18,321.51 L246.80,321.15 L247.44,320.92 L248.08,320.82 L248.68,320.87 L249.22,321.06 L249.68,321.37 L250.03,321.81 L250.27,322.34 L250.37,322.95 L250.34,323.61 L250.18,324.29 L249.89,324.95 L249.49,325.58 L248.99,326.14 L248.42,326.61 L247.79,326.97 L247.15,327.20 L246.52,327.30 L245.91,327.25 L245.37,327.06 L244.92,326.75 L244.56,326.31 L244.33,325.78 L244.22,325.17" fill="none" stroke="#262626" stroke-width="0.95" stroke-linecap="round" stroke-linejoin="round"/>
<line x1="334.70" y1="322.50" x2="470.50" y2="322.50" stroke="#333" stroke-width="0.9"/>
<polygon points="334.70,322.40 344.70,321.10 344.70,323.70" fill="#111" stroke="#111" stroke-width="0.4"/>
<polygon points="470.50,322.40 460.50,323.70 460.50,321.10" fill="#111" stroke="#111" stroke-width="0.4"/>
<path d="M352.50,318.30 L362.21,308.20 M355.70,308.20 L359.01,318.30 M366.61,314.87 L366.81,313.98 L366.83,313.15 L366.66,312.44 L366.31,311.89 L365.82,311.55 L365.22,311.43 L364.53,311.55 L363.83,311.89 L363.14,312.44 L362.52,313.15 L362.01,313.98 L361.64,314.87 L361.44,315.75 L361.43,316.58 L361.60,317.29 L361.94,317.84 L362.43,318.18 L363.04,318.30 L363.72,318.18 L364.43,317.84 L365.12,317.29 L365.74,316.58 L366.25,315.75 L366.61,314.87 M373.00,315.27 L373.16,314.49 L373.15,313.75 L372.95,313.13 L372.59,312.65 L372.08,312.34 L371.47,312.24 L370.80,312.34 L370.10,312.65 L369.43,313.13 L368.84,313.75 L368.36,314.49 L368.03,315.27 L367.86,316.05 L367.88,316.79 L368.08,317.41 L368.44,317.89 L368.94,318.20 L369.55,318.30 L370.23,318.20 L370.93,317.89 L371.59,317.41 L372.19,316.79 L372.67,316.05 L373.00,315.27 M373.00,315.27 L374.34,311.03 L374.34,311.03 L374.42,310.60 L374.38,310.19 L374.23,309.81 L373.97,309.50 L373.60,309.25 L373.16,309.09 L372.66,309.01 L372.12,309.03 L371.57,309.14 L371.04,309.34 L370.54,309.61 L370.10,309.95 L369.74,310.34 M387.10,310.07 L387.03,309.57 L386.83,309.13 L386.50,308.75 L386.07,308.46 L385.54,308.28 L384.94,308.20 L384.31,308.24 L383.66,308.39 L383.03,308.64 L382.44,308.98 L381.92,309.41 L381.50,309.89 L381.19,310.41 L381.01,310.95 L380.97,311.47 L381.06,311.96 L381.28,312.40 L381.63,312.76 L382.09,313.03 L382.63,313.19 L383.23,313.25 L383.23,313.25 L383.84,313.31 L384.38,313.47 L384.84,313.74 L385.18,314.10 L385.41,314.54 L385.50,315.03 L385.45,315.55 L385.27,316.09 L384.96,316.61 L384.54,317.09 L384.03,317.52 L383.44,317.86 L382.81,318.11 L382.16,318.26 L381.52,318.30 L380.93,318.22 L380.40,318.04 L379.96,317.75 L379.64,317.37 L379.43,316.93 L379.37,316.43" fill="none" stroke="#262626" stroke-width="0.95" stroke-linecap="round" stroke-linejoin="round"/>
<line x1="203.20" y1="369.50" x2="390.60" y2="369.50" stroke="#333" stroke-width="0.9"/>
<polygon points="203.20,369.20 213.20,367.70 213.20,370.70" fill="#111" stroke="#111" stroke-width="0.4"/>
<polygon points="390.60,369.20 380.60,370.70 380.60,367.70" fill="#111" stroke="#111" stroke-width="0.4"/>
<path d="M290.86,350.50 L287.40,362.60 L293.16,362.60 M297.72,352.83 L298.16,352.19 L298.72,351.61 L299.37,351.13 L300.08,350.78 L300.81,350.56 L301.53,350.50 L302.21,350.59 L302.80,350.83 L303.29,351.20 L303.65,351.69 L303.85,352.28 L303.90,352.94 L303.79,353.63 L303.51,354.32 L303.10,354.98 L294.82,362.60 L301.48,362.60" fill="none" stroke="#262626" stroke-width="0.95" stroke-linecap="round" stroke-linejoin="round"/>
<line x1="203.20" y1="404.50" x2="534.20" y2="404.50" stroke="#333" stroke-width="0.9"/>
<polygon points="203.20,404.30 213.20,402.80 213.20,405.80" fill="#111" stroke="#111" stroke-width="0.4"/>
<polygon points="534.20,404.30 524.20,405.80 524.20,402.80" fill="#111" stroke="#111" stroke-width="0.4"/>
<path d="M363.16,385.60 L359.80,398.00 L365.40,398.00 M369.63,388.33 L374.10,385.60 L370.74,398.00" fill="none" stroke="#262626" stroke-width="0.95" stroke-linecap="round" stroke-linejoin="round"/>
<path d="M670.60,192.60 L682.75,171.00 L683.39,192.60 M675.34,184.39 L683.02,184.39 M688.75,182.88 L701.53,182.88 M701.71,192.60 L713.86,171.00 L714.50,192.60 M706.46,184.39 L714.13,184.39" fill="none" stroke="#262626" stroke-width="1.5" stroke-linecap="round" stroke-linejoin="round"/>
<rect x="622.30" y="255.80" width="18.70" height="24.50" fill="none" stroke="#111" stroke-width="1.9500000000000002"/>
<rect x="720.50" y="255.80" width="18.70" height="24.50" fill="none" stroke="#111" stroke-width="1.9500000000000002"/>
<rect x="641.00" y="246.00" width="79.50" height="44.60" fill="#fff" stroke="#111" stroke-width="1.9500000000000002"/>
<circle cx="680.60" cy="268.50" r="29.90" fill="#fff" stroke="#111" stroke-width="1.9500000000000002"/>
<circle cx="680.60" cy="268.50" r="24.80" fill="none" stroke="#111" stroke-width="1.9500000000000002"/>
<clipPath id="ringclip"><path d="M650.7,268.5 a29.9,29.9 0 1 0 59.8,0 a29.9,29.9 0 1 0 -59.8,0 Z M655.8000000000001,268.5 a24.8,24.8 0 1 1 49.6,0 a24.8,24.8 0 1 1 -49.6,0 Z" clip-rule="evenodd"/></clipPath>
<g clip-path="url(#ringclip)"><line x1="560.60" y1="228.50" x2="640.60" y2="308.50" stroke="#333" stroke-width="0.6"/><line x1="569.60" y1="228.50" x2="649.60" y2="308.50" stroke="#333" stroke-width="0.6"/><line x1="578.60" y1="228.50" x2="658.60" y2="308.50" stroke="#333" stroke-width="0.6"/><line x1="587.60" y1="228.50" x2="667.60" y2="308.50" stroke="#333" stroke-width="0.6"/><line x1="596.60" y1="228.50" x2="676.60" y2="308.50" stroke="#333" stroke-width="0.6"/><line x1="605.60" y1="228.50" x2="685.60" y2="308.50" stroke="#333" stroke-width="0.6"/><line x1="614.60" y1="228.50" x2="694.60" y2="308.50" stroke="#333" stroke-width="0.6"/><line x1="623.60" y1="228.50" x2="703.60" y2="308.50" stroke="#333" stroke-width="0.6"/><line x1="632.60" y1="228.50" x2="712.60" y2="308.50" stroke="#333" stroke-width="0.6"/><line x1="641.60" y1="228.50" x2="721.60" y2="308.50" stroke="#333" stroke-width="0.6"/><line x1="650.60" y1="228.50" x2="730.60" y2="308.50" stroke="#333" stroke-width="0.6"/><line x1="659.60" y1="228.50" x2="739.60" y2="308.50" stroke="#333" stroke-width="0.6"/><line x1="668.60" y1="228.50" x2="748.60" y2="308.50" stroke="#333" stroke-width="0.6"/><line x1="677.60" y1="228.50" x2="757.60" y2="308.50" stroke="#333" stroke-width="0.6"/><line x1="686.60" y1="228.50" x2="766.60" y2="308.50" stroke="#333" stroke-width="0.6"/><line x1="695.60" y1="228.50" x2="775.60" y2="308.50" stroke="#333" stroke-width="0.6"/><line x1="704.60" y1="228.50" x2="784.60" y2="308.50" stroke="#333" stroke-width="0.6"/><line x1="713.60" y1="228.50" x2="793.60" y2="308.50" stroke="#333" stroke-width="0.6"/></g>
<line x1="614.00" y1="268.50" x2="742.00" y2="268.50" stroke="#777" stroke-width="0.55" stroke-dasharray="18,3,3,3"/>
<line x1="680.50" y1="230.00" x2="680.50" y2="308.70" stroke="#777" stroke-width="0.55"/>
<line x1="739.20" y1="255.50" x2="770.00" y2="255.50" stroke="#333" stroke-width="0.9"/>
<line x1="739.20" y1="280.50" x2="770.00" y2="280.50" stroke="#333" stroke-width="0.9"/>
<line x1="764.50" y1="212.00" x2="764.50" y2="298.00" stroke="#333" stroke-width="0.9"/>
<polygon points="764.80,255.80 763.30,246.80 766.30,246.80" fill="#111" stroke="#111" stroke-width="0.4"/>
<polygon points="764.80,280.30 766.30,289.30 763.30,289.30" fill="#111" stroke="#111" stroke-width="0.4"/>
<path d="M753.89,233.31 L752.96,233.17 L752.06,233.18 L751.24,233.35 L750.54,233.67 L749.98,234.12 L749.60,234.68 L749.40,235.34 L749.40,236.05 L749.60,236.80 L749.98,237.54 L750.54,238.25 L751.24,238.89 L752.06,239.44 L752.96,239.87 L753.89,240.16 L754.83,240.30 L755.73,240.29 L756.55,240.12 L757.25,239.80 L757.81,239.35 L758.19,238.78 L758.39,238.13 L758.39,237.41 L758.19,236.67 L757.81,235.93 L757.25,235.22 L756.55,234.58 L755.73,234.03 L754.83,233.60 L753.89,233.31 M761.25,239.43 L746.54,234.04 M746.80,224.71 L746.80,229.57 L752.48,231.54 L753.34,231.38 L752.78,230.80 L752.35,230.17 L752.07,229.52 L751.96,228.88 L752.02,228.27 L752.24,227.72 L752.62,227.26 L753.14,226.90 L753.78,226.67 L754.51,226.56 L755.29,226.59 L756.10,226.76 L756.90,227.05 L757.65,227.46 L758.32,227.96 L758.88,228.54 L759.31,229.17 L759.59,229.82 L759.70,230.46 L759.64,231.07 L759.42,231.62 L759.04,232.08 L758.52,232.44 L757.88,232.67 L757.15,232.78 M750.02,224.02 L749.35,223.80 L748.71,223.48 L748.13,223.05 L747.63,222.55 L747.23,221.99 L746.96,221.40 L746.82,220.80 L746.82,220.23 L746.96,219.69 L747.23,219.23 L747.63,218.85 L748.13,218.58 L748.71,218.43 L749.35,218.40 L750.02,218.49 L756.48,219.99 L757.15,220.20 L757.79,220.53 L758.37,220.95 L758.87,221.45 L759.27,222.01 L759.54,222.60 L759.68,223.20 L759.68,223.78 L759.54,224.31 L759.27,224.77 L758.87,225.15 L758.37,225.42 L757.79,225.57 L757.15,225.60 L756.48,225.51 L750.02,224.02" fill="none" stroke="#262626" stroke-width="0.95" stroke-linecap="round" stroke-linejoin="round"/>
<line x1="640.50" y1="290.60" x2="640.50" y2="336.60" stroke="#333" stroke-width="0.9"/>
<line x1="719.50" y1="290.60" x2="719.50" y2="336.60" stroke="#333" stroke-width="0.9"/>
<line x1="622.50" y1="280.30" x2="622.50" y2="364.40" stroke="#333" stroke-width="0.9"/>
<line x1="739.50" y1="280.30" x2="739.50" y2="364.40" stroke="#333" stroke-width="0.9"/>
<line x1="640.90" y1="332.50" x2="719.90" y2="332.50" stroke="#333" stroke-width="0.9"/>
<polygon points="640.90,332.40 650.90,330.90 650.90,333.90" fill="#111" stroke="#111" stroke-width="0.4"/>
<polygon points="719.90,332.40 709.90,333.90 709.90,330.90" fill="#111" stroke="#111" stroke-width="0.4"/>
<path d="M671.00,316.55 L675.50,314.20 L672.12,324.90 M682.80,315.59 L682.57,315.10 L682.20,314.70 L681.72,314.41 L681.15,314.24 L680.51,314.20 L679.83,314.29 L679.15,314.51 L678.50,314.85 L677.91,315.29 L677.41,315.81 L677.01,316.38 L676.75,316.98 L675.01,321.69 M675.01,321.69 L675.29,321.02 L675.70,320.38 L676.21,319.80 L676.80,319.30 L677.46,318.91 L678.14,318.64 L678.83,318.50 L679.48,318.50 L680.08,318.64 L680.59,318.91 L681.00,319.30 L681.28,319.80 L681.42,320.38 L681.42,321.02 L681.28,321.69 L681.00,322.36 L680.59,323.00 L680.08,323.58 L679.49,324.08 L678.83,324.47 L678.15,324.74 L677.46,324.88 L676.81,324.88 L676.21,324.74 L675.70,324.47 L675.30,324.08 L675.02,323.58 L674.87,323.00 L674.87,322.36 L675.01,321.69 M684.43,316.88 L684.67,316.32 L685.04,315.79 L685.52,315.30 L686.09,314.89 L686.73,314.56 L687.40,314.33 L688.07,314.21 L688.73,314.21 L689.33,314.33 L689.86,314.56 L690.28,314.89 L690.59,315.30 L690.77,315.79 L690.80,316.32 L690.69,316.88 L689.00,322.22 L688.76,322.78 L688.39,323.31 L687.91,323.80 L687.34,324.21 L686.70,324.54 L686.03,324.77 L685.36,324.89 L684.70,324.89 L684.10,324.77 L683.57,324.54 L683.15,324.21 L682.84,323.80 L682.66,323.31 L682.63,322.78 L682.74,322.22 L684.43,316.88" fill="none" stroke="#262626" stroke-width="0.95" stroke-linecap="round" stroke-linejoin="round"/>
<line x1="622.60" y1="360.50" x2="739.30" y2="360.50" stroke="#333" stroke-width="0.9"/>
<polygon points="622.60,360.40 632.60,358.90 632.60,361.90" fill="#111" stroke="#111" stroke-width="0.4"/>
<polygon points="739.30,360.40 729.30,361.90 729.30,358.90" fill="#111" stroke="#111" stroke-width="0.4"/>
<path d="M671.71,344.40 L672.09,343.79 L672.58,343.25 L673.14,342.80 L673.75,342.46 L674.39,342.26 L675.01,342.20 L675.60,342.28 L676.11,342.51 L676.53,342.86 L676.84,343.33 L677.02,343.88 L677.06,344.50 L676.96,345.15 L676.73,345.80 L676.37,346.42 L669.20,353.60 L674.96,353.60 M678.99,343.93 L679.38,343.41 L679.86,342.97 L680.41,342.61 L680.99,342.36 L681.59,342.22 L682.18,342.21 L682.71,342.32 L683.18,342.55 L683.56,342.89 L683.83,343.32 L683.98,343.82 L684.00,344.37 L683.89,344.94 L683.65,345.50 L683.30,346.03 L682.85,346.51 L682.33,346.90 L681.76,347.20 L681.16,347.38 L680.57,347.44 L680.46,347.44 L681.09,347.52 L681.65,347.73 L682.11,348.08 L682.46,348.54 L682.68,349.10 L682.75,349.73 L682.68,350.39 L682.46,351.06 L682.11,351.70 L681.64,352.29 L681.08,352.79 L680.45,353.19 L679.78,353.46 L679.11,353.59 L678.46,353.57 L677.87,353.41 L677.36,353.12 L676.96,352.70 L676.69,352.18 L676.56,351.57 M691.70,342.20 L686.82,342.20 L684.84,347.22 L685.01,347.98 L685.59,347.49 L686.22,347.11 L686.87,346.86 L687.52,346.76 L688.13,346.81 L688.68,347.01 L689.14,347.34 L689.50,347.80 L689.74,348.37 L689.84,349.01 L689.81,349.70 L689.65,350.42 L689.35,351.12 L688.94,351.79 L688.44,352.38 L687.86,352.87 L687.23,353.25 L686.58,353.50 L685.93,353.60 L685.32,353.55 L684.77,353.35 L684.31,353.02 L683.95,352.56 L683.71,351.99 L683.60,351.35" fill="none" stroke="#262626" stroke-width="0.95" stroke-linecap="round" stroke-linejoin="round"/>
</svg></body></html>
